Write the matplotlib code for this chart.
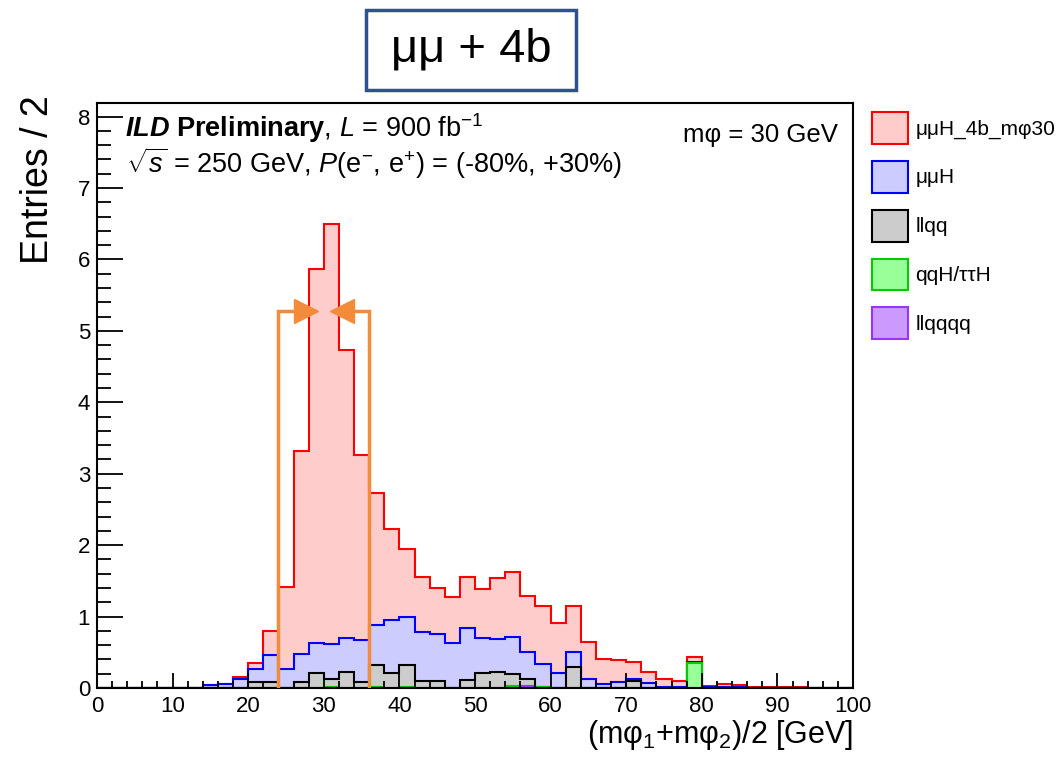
import numpy as np
import matplotlib
matplotlib.use('Agg')
import matplotlib.pyplot as plt
from matplotlib.patches import Patch, Rectangle

plt.rcParams['font.family'] = ['Liberation Sans', 'DejaVu Sans']
plt.rcParams['mathtext.fontset'] = 'custom'
plt.rcParams['mathtext.rm'] = 'Liberation Sans'
plt.rcParams['mathtext.it'] = 'Liberation Sans:italic'
plt.rcParams['mathtext.bf'] = 'Liberation Sans:bold'
plt.rcParams['mathtext.bfit'] = 'Liberation Sans:bold:italic'

# binning: (m_phi1 + m_phi2)/2, 2 GeV bins from 0 to 100
bin_width = 2
edges = np.arange(0, 100 + bin_width, bin_width)

# entries per bin, one list per process (stack order bottom -> top)
llqqqq = [0, 0, 0, 0, 0, 0, 0, 0, 0, 0,
          0, 0, 0, 0, 0, 0, 0, 0, 0, 0,
          0, 0, 0, 0, 0, 0, 0, 0, 0.03, 0,
          0, 0, 0, 0, 0, 0, 0, 0, 0, 0,
          0, 0, 0, 0, 0, 0, 0, 0, 0, 0]
qqH_tautauH = [0, 0, 0, 0, 0, 0, 0, 0, 0, 0,
               0, 0, 0, 0, 0, 0.02, 0, 0, 0.02, 0,
               0.02, 0, 0, 0, 0, 0, 0, 0.03, 0, 0.02,
               0, 0, 0, 0, 0, 0, 0, 0, 0, 0.35,
               0, 0, 0, 0, 0, 0, 0, 0, 0, 0]
llqq = [0, 0, 0, 0, 0, 0, 0, 0, 0, 0,
        0.09, 0.09, 0, 0.09, 0.21, 0.10, 0.22, 0.09, 0.30, 0.21,
        0.30, 0.10, 0.10, 0, 0.11, 0.21, 0.23, 0.17, 0.10, 0,
        0, 0.30, 0, 0, 0, 0.10, 0, 0, 0, 0,
        0, 0, 0, 0, 0, 0, 0, 0, 0, 0]
mumuH = [0, 0, 0, 0, 0, 0, 0, 0.04, 0.06, 0.13,
         0.17, 0.37, 0.27, 0.38, 0.42, 0.49, 0.48, 0.58, 0.56, 0.74,
         0.68, 0.69, 0.66, 0.63, 0.73, 0.49, 0.46, 0.52, 0.38, 0.31,
         0.21, 0.21, 0.12, 0.06, 0.08, 0.03, 0.07, 0.02, 0.02, 0.02,
         0.02, 0.02, 0.02, 0, 0, 0, 0, 0, 0, 0]
signal = [0, 0, 0, 0, 0, 0, 0, 0, 0, 0.02,
          0.09, 0.34, 1.14, 2.85, 5.23, 5.89, 4.03, 2.59, 1.85, 1.28,
          0.95, 0.76, 0.64, 0.65, 0.72, 0.69, 0.85, 0.90, 0.78, 0.82,
          0.70, 0.64, 0.52, 0.35, 0.31, 0.24, 0.16, 0.10, 0.08, 0.07,
          0.01, 0.03, 0.02, 0.01, 0.01, 0.02, 0.01, 0, 0, 0]

labels = ['μμH_4b_mφ30', 'μμH', 'llqq', 'qqH/ττH', 'llqqqq']
fills = ['#ffcccc', '#ccccff', '#cccccc', '#99ff99', '#cc99ff']
lines = ['#ff0000', '#0000ff', '#000000', '#00cc00', '#9933ff']

# mass window cut
cut_low, cut_high, cut_arrow_y = 24, 36, 5.28

fig = plt.figure(figsize=(10.61, 7.57), dpi=100)
ax = fig.add_axes([97 / 1061, 1 - 688 / 757, 756 / 1061, 585 / 757])

# cumulative stack, drawn from the top down
procs = [llqqqq, qqH_tautauH, llqq, mumuH, signal]
stack = np.cumsum(np.array(procs), axis=0)
for i in range(len(procs) - 1, -1, -1):
    j = len(procs) - 1 - i  # legend index
    ax.stairs(stack[i], edges, baseline=0, fill=True,
              facecolor=fills[j], edgecolor=lines[j], lw=1.5)

# orange cut window with arrows
orange = '#f28c3b'
ax.plot([cut_low, cut_low, cut_low + 3.5], [0, cut_arrow_y, cut_arrow_y],
        color=orange, lw=2.5, zorder=5, solid_joinstyle='miter')
ax.plot([cut_high, cut_high, cut_high - 3.5], [0, cut_arrow_y, cut_arrow_y],
        color=orange, lw=2.5, zorder=5, solid_joinstyle='miter')
ax.plot([cut_low + 3.6], [cut_arrow_y], marker='>', ms=17, color=orange,
        mec=orange, zorder=6)
ax.plot([cut_high - 3.6], [cut_arrow_y], marker='<', ms=17, color=orange,
        mec=orange, zorder=6)

ax.set_xlim(0, 100)
ax.set_ylim(0, 8.19)
ax.set_xticks(np.arange(0, 101, 10))
ax.set_xticks(np.arange(0, 101, 2), minor=True)
ax.set_yticks(np.arange(0, 9, 1))
ax.set_yticks(np.arange(0, 8.1, 0.2), minor=True)
ax.tick_params(axis='both', which='both', direction='in', top=False,
               right=False, width=1.3, labelsize=16)
ax.tick_params(axis='x', which='major', length=11, pad=6)
ax.tick_params(axis='x', which='minor', length=5)
ax.tick_params(axis='y', which='major', length=19, pad=5)
ax.tick_params(axis='y', which='minor', length=10)
for s in ax.spines.values():
    s.set_linewidth(1.5)

ax.set_xlabel(r'(mφ$_{1}$+mφ$_{2}$)/2 [GeV]', fontsize=22, loc='right')
ax.xaxis.set_label_coords(1.0, -0.052)
ax.set_ylabel('Entries / 2', fontsize=27, loc='top')
ax.yaxis.set_label_coords(-0.054, 1.014)

ax.text(0.037, 0.942,
        r'$\mathbfit{ILD}$ $\mathbf{Preliminary}$, $L$ = 900 fb$^{-1}$',
        transform=ax.transAxes, fontsize=19.5, va='baseline')
ax.text(0.039, 0.880,
        r'$\sqrt{s}$ = 250 GeV, $P$(e$^{-}$, e$^{+}$) = (-80%, +30%)',
        transform=ax.transAxes, fontsize=19.5, va='baseline')
ax.text(0.980, 0.933, 'mφ = 30 GeV', transform=ax.transAxes,
        fontsize=18.5, ha='right', va='baseline')

handles = [Patch(facecolor=f, edgecolor=c, lw=1.5) for f, c in zip(fills, lines)]
fig.legend(handles, labels, loc='upper left',
           bbox_to_anchor=(872 / 1061, 1 - 112 / 757), frameon=False,
           fontsize=15, handlelength=1.73, handleheight=1.97,
           labelspacing=0.82, handletextpad=0.34, borderpad=0,
           borderaxespad=0)

# channel box on top
fig.patches.append(Rectangle((366 / 1061, 1 - 90 / 757), 210 / 1061, 80 / 757,
                             transform=fig.transFigure, facecolor='white',
                             edgecolor='#2f528f', lw=2.5))
fig.text(471 / 1061, 1 - 50 / 757, 'μμ + 4b', fontsize=34,
         ha='center', va='center')

fig.savefig('out.png', dpi=100)
